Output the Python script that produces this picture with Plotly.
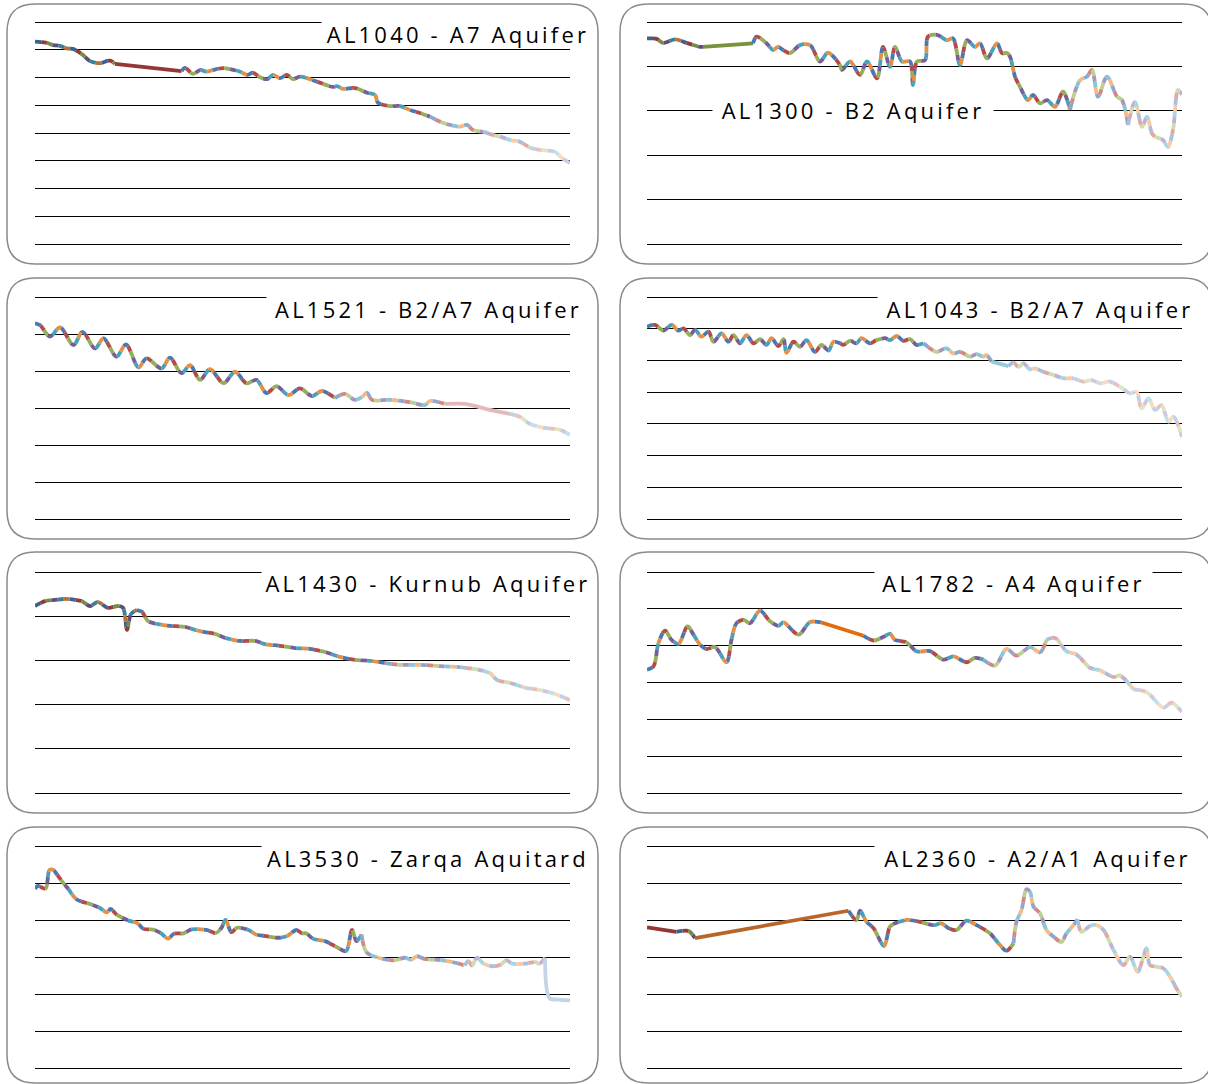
import plotly.graph_objects as go

W, H = 1208, 1084

# ---------------- data (x = time index 0..107, y = depth below top gridline, grid units) -------------
al1040_x = [0, 2.3, 3.6, 5, 6.3, 7.6, 9, 9.6, 11, 13, 15, 16, 29.3, 30, 31.6, 33, 34.4, 35.6, 37.6, 39,
            41, 42.4, 43.6, 45, 46.4, 47.6, 49, 50.4, 51.6, 53, 56.4, 59.6, 60.4, 61.6, 64, 66.4, 68, 68.6, 71, 73,
            75, 77, 79, 81, 83, 85, 86.4, 87.6, 89.6, 91.6, 93, 95, 97, 99, 101, 104, 105.4, 107]
al1040_y = [0.71, 0.75, 0.83, 0.86, 0.95, 0.97, 1.11, 1.19, 1.41, 1.48, 1.39, 1.51, 1.77, 1.65, 1.87, 1.73, 1.79, 1.73, 1.66, 1.70,
            1.79, 1.91, 1.83, 1.99, 2.06, 1.91, 2.02, 1.91, 2.06, 1.97, 2.15, 2.34, 2.31, 2.41, 2.38, 2.55, 2.63, 2.91, 3.03, 3.03,
            3.17, 3.28, 3.41, 3.59, 3.71, 3.77, 3.71, 3.89, 3.95, 4.07, 4.13, 4.25, 4.32, 4.54, 4.61, 4.68, 4.90, 5.08]

al1300_x = [0, 1.9, 3.2, 5.6, 7.9, 10.6, 11.2, 21.2, 21.9, 23.9, 25.2, 26.2, 27.2, 28.6, 30.6, 32.6, 34.6, 36.2, 38.6, 39,
            40.6, 42.6, 44, 46, 47.2, 48.6, 49.6, 51, 52.6, 53.2, 54, 55.6, 56.2, 58, 60, 61.2, 62.6, 64, 65.6, 66.6,
            68, 70, 71, 72, 72.6, 73.6, 74.6, 76.2, 77.2, 78.6, 80, 81.6, 83.2, 84.6, 86.6, 88, 89, 90.2, 92, 94,
            95, 96.2, 97.6, 99, 100, 101, 101.6, 103.2, 104.2, 105.2, 106.2, 107]
al1300_y = [0.37, 0.38, 0.47, 0.39, 0.47, 0.56, 0.56, 0.48, 0.33, 0.48, 0.63, 0.56, 0.63, 0.70, 0.52, 0.52, 0.89, 0.69, 0.97, 1.08,
            0.89, 1.19, 0.89, 1.27, 0.56, 1.01, 0.56, 0.89, 0.89, 1.42, 0.89, 0.86, 0.33, 0.29, 0.41, 0.37, 0.97, 0.41, 0.56, 0.48,
            0.82, 0.48, 0.70, 0.70, 0.78, 1.23, 1.46, 1.76, 1.64, 1.83, 1.76, 1.91, 1.57, 1.98, 1.31, 1.23, 1.08, 1.68, 1.23, 1.68,
            1.76, 2.32, 1.80, 2.36, 2.13, 2.51, 2.58, 2.66, 2.81, 2.43, 1.53, 1.64]

al1521_x = [0, 1, 3, 5, 7.7, 9.5, 12, 13.7, 16.3, 18.2, 20.7, 22.3, 25.3, 27, 29.3, 31, 33, 35, 37.7, 40,
            42.3, 44.3, 46.3, 48.3, 50.7, 53, 55.4, 57.4, 60, 62, 64, 65.4, 66.4, 67.4, 71, 75, 78, 79, 82, 86,
            91, 95, 97, 99, 102, 105, 107]
al1521_y = [0.71, 0.76, 1.07, 0.82, 1.30, 0.94, 1.39, 1.12, 1.61, 1.28, 1.90, 1.66, 1.93, 1.64, 2.06, 1.84, 2.24, 1.95, 2.33, 2.02,
            2.33, 2.24, 2.60, 2.41, 2.65, 2.47, 2.68, 2.54, 2.73, 2.62, 2.78, 2.70, 2.59, 2.78, 2.78, 2.84, 2.92, 2.81, 2.89, 2.89,
            3.05, 3.16, 3.24, 3.43, 3.54, 3.59, 3.73]

al1043_x = [0, 1.6, 3.3, 4.9, 6.3, 7.3, 8.6, 9.6, 10.9, 12.3, 13.3, 14.9, 16.3, 17.3, 18.6, 19.9, 21.3, 22.6, 23.9, 24.9,
            26.3, 27.3, 27.9, 29.3, 30.6, 31.9, 33.6, 34.9, 36.3, 37.3, 38.6, 39.3, 40.6, 41.9, 42.9, 44.6, 45.9, 47.6, 48.6, 49.9,
            51.3, 52.6, 53.9, 55.3, 56.6, 57.9, 59.9, 61.3, 62.6, 64.6, 65.9, 67.3, 67.9, 68.9, 72.3, 73.3, 74.3, 75.3, 76.6, 77.6,
            79.3, 81.3, 83.3, 85.3, 87.3, 88.9, 90.6, 92.6, 94.6, 96.6, 97.9, 98.9, 100.3, 101.6, 102.9, 104.3, 105.3, 107]
al1043_y = [0.94, 0.88, 1.06, 0.88, 1.06, 0.99, 1.20, 1.04, 1.25, 1.09, 1.41, 1.15, 1.41, 1.20, 1.46, 1.20, 1.46, 1.33, 1.51, 1.30,
            1.55, 1.33, 1.76, 1.41, 1.57, 1.36, 1.73, 1.51, 1.69, 1.41, 1.46, 1.51, 1.38, 1.46, 1.30, 1.46, 1.36, 1.30, 1.36, 1.23,
            1.38, 1.33, 1.51, 1.46, 1.62, 1.73, 1.62, 1.78, 1.73, 1.88, 1.80, 1.88, 1.83, 2.04, 2.18, 2.07, 2.20, 2.09, 2.28, 2.25,
            2.36, 2.46, 2.56, 2.56, 2.67, 2.62, 2.72, 2.67, 2.83, 3.04, 2.99, 3.51, 3.20, 3.56, 3.41, 3.93, 3.78, 4.41]

al1430_x = [0, 2, 4, 6, 8, 9.4, 11, 12.6, 14.6, 16.6, 17.6, 18.4, 19.2, 20.4, 21.4, 22.6, 24.6, 27, 30, 32,
            34, 36, 38, 41, 44, 46, 49, 52, 55, 58, 61, 64, 67, 70, 73, 77, 81, 85, 89, 91,
            92.4, 95, 98, 101, 104, 107]
al1430_y = [0.77, 0.66, 0.63, 0.61, 0.63, 0.66, 0.77, 0.68, 0.81, 0.77, 0.81, 1.31, 0.95, 0.86, 0.90, 1.11, 1.18, 1.22, 1.24, 1.31,
            1.36, 1.40, 1.49, 1.56, 1.56, 1.63, 1.67, 1.72, 1.74, 1.81, 1.92, 1.99, 2.01, 2.06, 2.10, 2.10, 2.13, 2.15, 2.22, 2.29,
            2.44, 2.51, 2.62, 2.67, 2.76, 2.90]

al1782_x = [0, 1.3, 2.3, 3.6, 4.9, 6.3, 8.1, 9.3, 10.6, 11.9, 13.6, 15.9, 16.9, 17.9, 19.3, 20.6, 22.6, 24.6, 26.3, 27.3,
            30.3, 32.6, 34.9, 43.3, 45.3, 47.3, 48.6, 49.6, 51.9, 53.9, 56.6, 59.3, 61.3, 63.9, 65.6, 67.3, 69.6, 71.9, 73.9, 76.6,
            78.6, 79.9, 81.6, 83.9, 85.9, 88.6, 90.6, 93.3, 94.6, 97.3, 99.9, 103.3, 104.9, 107]
al1782_y = [2.65, 2.56, 1.93, 1.59, 1.84, 1.95, 1.48, 1.70, 1.97, 2.09, 2.04, 2.45, 1.84, 1.39, 1.30, 1.39, 1.05, 1.34, 1.46, 1.37,
            1.70, 1.36, 1.37, 1.73, 1.86, 1.76, 1.68, 1.84, 1.91, 2.15, 2.15, 2.38, 2.29, 2.45, 2.33, 2.38, 2.54, 2.09, 2.27, 2.04,
            2.18, 1.84, 1.79, 2.15, 2.24, 2.60, 2.67, 2.85, 2.81, 3.19, 3.26, 3.68, 3.55, 3.80]

al3530_x = [0, 0.6, 2.1, 2.9, 3.7, 4.4, 5.6, 6.7, 8.3, 11.3, 12.9, 14.4, 15.1, 16.3, 18.6, 20.5, 21.7, 23.6, 25.1, 26.6,
            27.8, 29.7, 31.2, 34.3, 36.2, 37.3, 38.1, 39.3, 40.4, 42.7, 44.2, 46.5, 48.4, 50.3, 52.3, 53.4, 54.2, 55.7, 58, 60.3,
            62.2, 63.4, 64.3, 65.3, 66.3, 68.7, 71.8, 74, 75.2, 76.4, 77.9, 81.7, 84.8, 85.9, 86.7, 87.4, 88.4, 89.7, 91.6, 93.2,
            94.3, 95.5, 97.8, 100.1, 100.9, 102, 102.9, 104.7, 107]
al3530_y = [1.16, 1.08, 1.15, 0.65, 0.65, 0.77, 0.99, 1.17, 1.44, 1.58, 1.67, 1.79, 1.70, 1.85, 2.01, 2.09, 2.24, 2.26, 2.35, 2.50,
            2.37, 2.36, 2.26, 2.27, 2.35, 2.21, 2.00, 2.33, 2.21, 2.27, 2.39, 2.44, 2.48, 2.44, 2.27, 2.36, 2.36, 2.51, 2.57, 2.73,
            2.84, 2.27, 2.57, 2.39, 2.87, 3.02, 3.09, 3.02, 3.07, 2.98, 3.05, 3.09, 3.18, 3.23, 3.11, 3.23, 3.02, 3.18, 3.25, 3.20,
            3.09, 3.18, 3.18, 3.14, 3.18, 3.02, 4.11, 4.15, 4.17]

al2360_x = [0, 5.9, 7.9, 8.6, 9.6, 40.3, 41.9, 42.6, 43.9, 45.3, 47.4, 48.6, 49.6, 51.9, 54.6, 57.3, 58.9, 60.3, 61.9, 63.9,
            65.9, 68.6, 70.3, 71.9, 73.3, 73.9, 74.9, 75.9, 76.6, 77.3, 78.6, 79.9, 81.3, 82.9, 83.9, 85.3, 86.1, 86.9, 88.6, 89.9,
            91.3, 93.3, 95.3, 96.6, 98.1, 99.3, 99.9, 100.6, 101.9, 103.3, 104.6, 105.9, 107]
al2360_y = [2.20, 2.32, 2.29, 2.32, 2.49, 1.75, 2.00, 1.75, 2.05, 2.22, 2.70, 2.18, 2.09, 2.00, 2.05, 2.14, 2.09, 2.22, 2.27, 2.02,
            2.14, 2.36, 2.63, 2.83, 2.63, 2.05, 1.73, 1.17, 1.24, 1.64, 1.82, 2.27, 2.45, 2.59, 2.36, 2.14, 1.98, 2.32, 2.16, 2.14,
            2.27, 2.81, 3.22, 2.99, 3.40, 2.99, 2.76, 3.22, 3.26, 3.31, 3.53, 3.85, 4.07]

titles = ["AL1040 - A7 Aquifer", "AL1300 - B2 Aquifer", "AL1521 - B2/A7 Aquifer", "AL1043 - B2/A7 Aquifer",
          "AL1430 - Kurnub Aquifer", "AL1782 - A4 Aquifer", "AL3530 - Zarqa Aquitard", "AL2360 - A2/A1 Aquifer"]
grid_intervals = [8, 5, 6, 7, 5, 6, 6, 6]
series_x = [al1040_x, al1300_x, al1521_x, al1043_x, al1430_x, al1782_x, al3530_x, al2360_x]
series_y = [al1040_y, al1300_y, al1521_y, al1043_y, al1430_y, al1782_y, al3530_y, al2360_y]

# ---------------- styles / layout ----------------
BASE = ['#4F81BD', '#C0504D', '#9BBB59', '#8064A2', '#4BACC6', '#F79646']


def mix(c, o, t):
    a = [int(c[i:i + 2], 16) for i in (1, 3, 5)]
    b = [int(o[i:i + 2], 16) for i in (1, 3, 5)]
    return '#' + ''.join('%02X' % round(a[k] + (b[k] - a[k]) * t) for k in range(3))


TIERS = {
    'dark': [mix(c, '#000000', 0.25) for c in BASE],
    'base': [mix(c, '#000000', 0.06) for c in BASE],
    'l40': [mix(c, '#FFFFFF', 0.32) for c in BASE],
    'l60': [mix(c, '#FFFFFF', 0.50) for c in BASE],
    'l75': [mix(c, '#FFFFFF', 0.64) for c in BASE],
}

# colour portions along each line: (start x, tier name or solid colour)
portions = [
    [(0, 'dark'), (16, '#943634'), (29.3, 'base'), (79, 'l40'), (89.6, 'l60'), (99, 'l75')],
    [(0, 'dark'), (11.2, '#77933C'), (21.2, 'base'), (84.6, 'l40'), (96.2, 'l60')],
    [(0, 'base'), (60, 'l40'), (82, '#E6B9B8'), (95, 'l75')],
    [(0, 'base'), (55.3, 'l40'), (68.9, '#93CDDD'), (72.3, 'l60'), (85.3, 'l75')],
    [(0, 'dark'), (20.4, 'base'), (70, 'l40'), (85, 'l60'), (98, 'l75')],
    [(0, 'base'), (34.9, '#E46C0A'), (43.3, 'base'), (67.3, 'l40'), (79.9, 'l60'), (97.3, 'l75')],
    [(0, 'base'), (65.3, 'l40'), (85.9, 'l60'), (102, '#C5D3E8')],
    [(0, '#943634'), (5.9, 'dark'), (9.6, '#B7652A'), (40.3, 'base'), (73.3, 'l40'), (86.1, 'l60')],
]

# pixel geometry
boxes = [(7, 4, 598, 264), (620, 4, 1212, 264), (7, 278, 598, 539), (620, 278, 1212, 539),
         (7, 552, 598, 813), (620, 552, 1212, 813), (7, 827, 598, 1083), (620, 827, 1212, 1083)]
plots = [(35, 570, 22, 244), (647, 1182, 22, 244), (35, 570, 297, 519), (647, 1182, 297, 519),
         (35, 570, 572, 793), (647, 1182, 572, 793), (35, 570, 846, 1068), (647, 1182, 846, 1068)]
title_boxes = [(458, 34, 272, 28), (853, 110, 280, 26), (428.5, 309, 323, 28), (1040, 309, 324, 28),
               (428, 583, 332, 28), (1013.5, 583, 277, 28), (428, 858, 332, 28), (1037.5, 858, 325, 28)]

LW = 3.8
SEG = 6  # px per colour dash
PAD = 8  # px of extra vertical room so edge gridlines are drawn


def px(x):
    return x / W


def py(y):
    return 1 - y / H


def rrect(x0, y0, x1, y1, r):
    pts = [
        ('M', [(x0 + r, y0)]), ('L', [(x1 - r, y0)]), ('Q', [(x1, y0), (x1, y0 + r)]),
        ('L', [(x1, y1 - r)]), ('Q', [(x1, y1), (x1 - r, y1)]), ('L', [(x0 + r, y1)]),
        ('Q', [(x0, y1), (x0, y1 - r)]), ('L', [(x0, y0 + r)]), ('Q', [(x0, y0), (x0 + r, y0)]),
    ]
    s = ''
    for cmd, ps in pts:
        s += cmd + ' ' + ' '.join('%.5f,%.5f' % (px(a), py(b)) for a, b in ps) + ' '
    return s + 'Z'


def nearest(xs, v):
    return min(range(len(xs)), key=lambda i: abs(xs[i] - v))


fig = go.Figure()
layout = dict(width=W, height=H, margin=dict(l=0, r=0, t=0, b=0), paper_bgcolor='white',
              plot_bgcolor='rgba(0,0,0,0)', showlegend=False, shapes=[], annotations=[])

for k in range(8):
    ax = '' if k == 0 else str(k + 1)
    xs, ys = series_x[k], series_y[k]
    x0, x1, yt, yb = plots[k]
    n = grid_intervals[k]
    pad_u = PAD / ((yb - yt) / n)
    layout['xaxis' + ax] = dict(domain=[px(x0), px(x1)], range=[0, 107], visible=False,
                                anchor='y' + ax, fixedrange=True)
    layout['yaxis' + ax] = dict(domain=[py(yb + PAD), py(yt - PAD)], range=[n + pad_u, -pad_u], tick0=0, dtick=1,
                                showgrid=True, gridcolor='#000000', gridwidth=1.3, zeroline=False,
                                showline=False, showticklabels=False, ticks='', anchor='x' + ax,
                                fixedrange=True)
    # colour portions
    parts = portions[k]
    for p, (start, style) in enumerate(parts):
        i0 = nearest(xs, start)
        i1 = nearest(xs, parts[p + 1][0]) if p + 1 < len(parts) else len(xs) - 1
        sx, sy = xs[i0:i1 + 1], ys[i0:i1 + 1]
        if style.startswith('#'):
            fig.add_trace(go.Scatter(x=sx, y=sy, mode='lines', xaxis='x' + ax, yaxis='y' + ax,
                                     line=dict(color=style, width=LW, shape='spline', smoothing=0.9),
                                     hoverinfo='skip'))
        else:
            cols = TIERS[style]
            nc = len(cols)
            for c in range(nc):
                if c == 0:
                    dash = '%dpx,%dpx' % (SEG, SEG * (nc - 1))
                else:
                    dash = '0px,%dpx,%dpx,%dpx' % (SEG * c, SEG, SEG * (nc - 1 - c))
                fig.add_trace(go.Scatter(x=sx, y=sy, mode='lines', xaxis='x' + ax, yaxis='y' + ax,
                                         line=dict(color=cols[c], width=LW, shape='spline',
                                                   smoothing=0.9, dash=dash),
                                         hoverinfo='skip'))
    # rounded panel frame
    bx0, by0, bx1, by1 = boxes[k]
    layout['shapes'].append(dict(type='path', xref='paper', yref='paper', path=rrect(bx0, by0, bx1, by1, 28),
                                 line=dict(color='#8A8A8A', width=1.5), layer='below'))
    # title with white background
    cx, cy, tw, th = title_boxes[k]
    layout['annotations'].append(dict(text=titles[k], xref='paper', yref='paper', x=px(cx), y=py(cy),
                                      xanchor='center', yanchor='middle', showarrow=False,
                                      width=tw, height=th, bgcolor='white', borderpad=0,
                                      font=dict(family='Open Sans', size=22, color='#000000')))

fig.update_layout(**layout)

post = """
var st = document.createElement('style');
st.innerHTML = 'body{margin:0;padding:0;overflow:hidden;} .annotation-text{letter-spacing:3.2px;}';
document.head.appendChild(st);
"""
fig.write_html("out.html", post_script=post, config={'displayModeBar': False})
